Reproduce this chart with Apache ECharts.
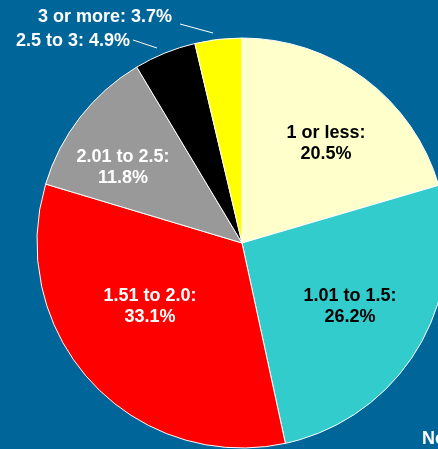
<!DOCTYPE html>
<html>
<head>
<meta charset="utf-8">
<script src="https://cdn.jsdelivr.net/npm/echarts@6/dist/echarts.min.js"></script>
<style>
html,body{margin:0;padding:0;background:#006699;}
#chart{width:438px;height:449px;}
</style>
</head>
<body>
<div id="chart"></div>
<script>
// Data
var categories = ['1 or less', '1.01 to 1.5', '1.51 to 2.0', '2.01 to 2.5', '2.5 to 3', '3 or more'];
var values = [20.5, 26.2, 33.1, 11.8, 4.9, 3.7];
var colors = ['#FFFFCC', '#33CCCC', '#FF0000', '#999999', '#000000', '#FFFF00'];
var labelColors = ['#000000', '#000000', '#FFFFFF', '#FFFFFF', '#FFFFFF', '#FFFFFF'];
var footText = 'No';

// Layout (label placements, not data)
var insideLabelPos = [[326, 144], [350, 307], [150, 307], [123, 168], null, null];
var outsideLabel = {
  4: {x: 130, y: 41, line: [[157, 48], [133, 40]]},
  5: {x: 172, y: 17, line: [[213, 33], [180, 24]]}
};

var chart = echarts.init(document.getElementById('chart'), null, {renderer: 'canvas'});

var data = categories.map(function (c, i) {
  var outside = values[i] < 6;
  return {
    name: c,
    value: values[i],
    itemStyle: {color: colors[i]},
    label: {
      position: outside ? 'outside' : 'inside',
      color: labelColors[i],
      formatter: outside ? '{b}: {c}%' : '{b}:\n{c}%'
    },
    labelLine: {show: outside, lineStyle: {color: '#FFFFFF', width: 1}}
  };
});

chart.setOption({
  backgroundColor: '#006699',
  animation: false,
  series: [{
    type: 'pie',
    center: [242, 243],
    radius: 205,
    startAngle: 90,
    clockwise: true,
    avoidLabelOverlap: false,
    itemStyle: {borderColor: '#FFFFFF', borderWidth: 1},
    label: {
      show: true,
      fontFamily: 'Liberation Sans, Arial, sans-serif',
      fontWeight: 'bold',
      fontSize: 18,
      lineHeight: 21,
      align: 'center'
    },
    emphasis: {disabled: true},
    data: data
  }],
  graphic: [{
    type: 'text',
    left: 422,
    top: 430,
    style: {
      text: footText,
      fill: '#FFFFFF',
      font: 'bold 18px "Liberation Sans", Arial, sans-serif'
    }
  }]
});

chart.setOption({
  series: [{
    labelLayout: function (p) {
      var i = p.dataIndex;
      if (outsideLabel[i]) {
        return {
          x: outsideLabel[i].x,
          y: outsideLabel[i].y,
          align: 'right',
          verticalAlign: 'middle',
          labelLinePoints: outsideLabel[i].line
        };
      }
      var pos = insideLabelPos[i];
      return {x: pos[0], y: pos[1], align: 'center', verticalAlign: 'middle'};
    }
  }]
});
</script>
</body>
</html>
